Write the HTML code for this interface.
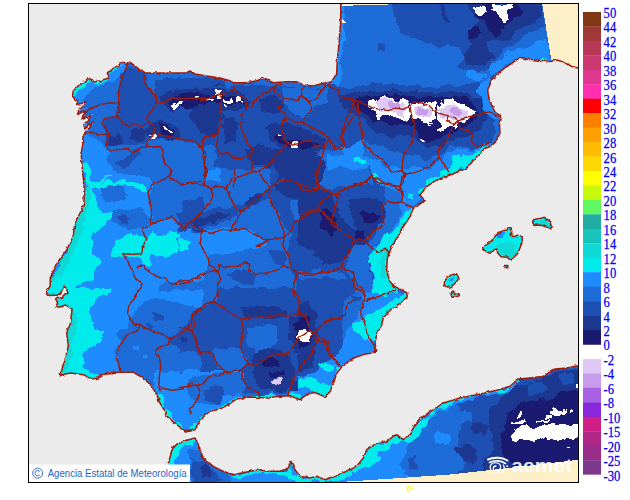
<!DOCTYPE html>
<html><head><meta charset="utf-8"><title>AEMET</title>
<style>
html,body{margin:0;padding:0;background:#fff;}
body{width:630px;height:500px;overflow:hidden;position:relative;font-family:"Liberation Sans",sans-serif;}
svg{position:absolute;left:0;top:0;}
.lg{font-family:"Liberation Serif",serif;font-size:14.2px;fill:#0000ee;stroke:#0000ee;stroke-width:0.25px;}
</style></head><body>
<svg width="630" height="500" viewBox="0 0 630 500">
<defs><filter id="rag" x="0" y="0" width="100%" height="100%" filterUnits="userSpaceOnUse" color-interpolation-filters="sRGB"><feTurbulence type="fractalNoise" baseFrequency="0.09" numOctaves="3" seed="7" result="n"/><feDisplacementMap in="SourceGraphic" in2="n" scale="9" xChannelSelector="R" yChannelSelector="G"/></filter><filter id="wig" x="0" y="0" width="100%" height="100%" filterUnits="userSpaceOnUse" color-interpolation-filters="sRGB"><feTurbulence type="fractalNoise" baseFrequency="0.22" numOctaves="2" seed="3" result="n"/><feDisplacementMap in="SourceGraphic" in2="n" scale="3.2" xChannelSelector="R" yChannelSelector="G"/></filter><clipPath id="fr"><rect x="28.5" y="3.5" width="550" height="479"/></clipPath>
<clipPath id="land"><polygon points="122.7,61.3 126.3,64.0 129.9,62.2 137.1,67.6 145.0,72.7 153.0,73.0 163.0,73.0 176.7,73.0 186.7,72.7 190.0,71.0 195.0,74.0 206.7,76.0 220.0,78.0 230.0,80.7 233.3,82.7 246.7,82.7 256.7,80.7 263.3,78.3 273.3,82.7 286.7,81.7 296.7,81.7 303.3,85.0 313.3,86.0 323.3,83.3 331.7,81.7 336.7,73.3 337.3,60.0 339.3,40.0 340.7,20.0 340.7,3.0 579.0,3.0 579.0,68.3 570.0,66.0 563.3,61.7 556.7,60.0 548.3,61.7 536.7,60.0 526.7,59.3 520.0,57.3 511.7,63.3 500.0,71.7 491.7,80.0 487.7,90.0 489.3,100.0 494.0,110.0 500.7,116.7 499.3,121.7 500.0,133.3 496.0,141.7 490.0,146.7 485.0,148.3 476.7,156.7 466.7,168.3 450.0,175.0 436.7,180.0 426.7,186.7 420.0,195.0 425.0,200.7 418.3,205.0 413.3,208.3 410.0,216.7 403.3,226.7 396.7,238.3 391.7,246.7 387.3,258.3 386.7,270.0 390.0,281.7 395.0,286.7 406.7,292.7 407.3,296.7 400.0,303.3 390.0,310.0 383.3,316.7 381.7,325.0 376.7,333.3 375.0,343.3 376.7,350.7 371.7,352.7 361.7,355.0 353.3,358.3 343.3,365.0 336.7,373.3 333.3,383.3 330.0,391.7 325.0,396.7 316.7,393.3 313.3,392.3 306.7,394.7 300.0,399.7 290.0,395.7 280.0,396.3 266.7,398.0 250.0,397.0 236.7,399.0 228.3,404.7 220.0,409.0 210.0,411.3 200.0,419.7 195.0,429.7 186.7,432.0 176.7,424.7 168.3,418.0 165.0,411.3 160.0,403.0 156.7,394.7 151.7,386.3 143.3,378.0 133.3,372.3 120.0,372.3 106.7,373.0 98.3,378.0 91.7,379.0 83.3,374.7 70.0,373.0 60.0,375.7 65.0,359.7 68.3,346.0 66.7,333.0 70.7,323.0 71.0,317.0 72.3,309.6 68.8,307.0 65.9,304.8 60.6,307.0 55.6,307.0 57.6,302.7 55.6,298.9 57.5,297.2 62.6,298.2 63.2,295.5 68.2,293.0 64.5,285.6 60.6,293.0 57.3,295.2 54.9,295.2 49.6,295.5 46.7,294.0 46.7,291.2 50.1,286.3 50.3,277.7 58.0,261.7 66.7,250.0 73.0,236.7 75.0,223.0 80.0,213.0 84.0,203.0 84.0,186.7 82.7,173.0 81.0,153.0 82.7,145.1 83.0,135.2 85.7,131.6 89.3,128.0 93.8,121.7 90.2,124.4 84.8,128.0 83.9,124.4 87.5,120.8 91.1,115.4 86.6,117.2 82.1,119.0 83.0,115.4 87.5,110.0 81.2,112.7 77.6,114.5 78.5,110.9 82.1,107.3 85.7,102.7 81.2,103.6 76.7,104.5 77.6,100.9 74.9,99.1 72.6,96.4 73.1,91.0 75.8,88.3 78.5,85.6 82.1,82.9 85.7,82.0 88.4,78.4 93.8,82.0 99.2,81.1 104.6,79.3 108.2,78.4 107.3,73.0 110.0,70.3 114.5,67.6 119.1,64.9"/><polygon points="168.3,482.0 168.3,463.0 173.3,446.3 183.3,441.3 195.0,438.0 198.3,444.7 200.0,449.7 203.3,458.0 213.3,466.3 223.3,471.3 233.3,474.7 250.0,471.3 260.0,469.7 266.7,471.3 280.0,471.3 288.3,468.0 291.0,461.3 295.0,469.7 300.0,476.3 310.0,478.0 316.7,476.3 325.0,479.7 333.3,477.0 346.7,471.3 356.7,466.3 363.3,458.0 366.7,449.7 376.7,443.0 386.7,441.3 393.3,436.3 396.7,434.7 403.3,439.7 410.0,434.7 415.0,424.7 423.3,416.3 433.3,409.7 443.3,403.0 460.0,398.0 476.7,394.7 496.7,390.3 510.0,386.3 518.3,379.0 530.0,378.0 543.3,376.3 555.0,369.0 566.7,368.0 579.0,365.7 579.0,482.0"/><polygon points="482.7,247.8 486.7,244.4 491.1,241.1 495.6,235.6 501.1,231.1 506.7,230.0 508.9,227.8 511.1,227.8 511.8,232.2 510.0,234.4 513.3,236.7 517.8,235.1 522.2,236.7 522.2,242.2 520.0,247.8 517.8,253.3 514.4,256.7 511.1,260.0 506.7,257.3 501.1,256.7 497.8,253.3 496.7,248.9 493.3,250.0 490.0,253.3 485.6,251.6 483.3,250.0"/><polygon points="444.4,282.2 446.7,277.8 451.1,275.1 455.6,273.8 458.4,275.6 457.8,280.0 454.4,284.0 451.1,286.7 446.7,287.1 444.4,285.6"/><polygon points="532.7,220.0 536.7,218.9 541.1,218.2 544.4,217.3 547.8,219.6 551.1,222.2 552.2,226.7 550.0,228.9 546.7,227.1 542.2,225.6 537.8,224.9 534.0,225.6 532.7,222.2"/><polygon points="451.6,292.2 453.3,291.1 454.9,294.4 458.9,293.8 459.6,296.0 455.6,296.7 452.2,297.3 451.1,295.1"/><polygon points="505.1,265.6 507.8,265.6 507.8,267.8 505.1,267.8"/></clipPath></defs>
<rect x="28" y="3" width="551" height="480" fill="#ebebeb"/>
<g clip-path="url(#fr)">
<g clip-path="url(#land)" shape-rendering="crispEdges">
<g filter="url(#rag)">
<rect x="0" y="0" width="630" height="500" fill="#1e6cd8"/>
<polygon fill="#1e8cff" points="70.2,90.6 77.8,83.0 85.4,80.5 93.0,79.2 105.7,74.1 110.8,67.8 121.0,60.2 126.5,65.2 122.2,72.9 114.6,79.2 108.3,83.0 98.1,85.6 90.5,90.6 84.1,98.3 81.6,105.9 85.4,113.5 86.7,123.7 90.5,133.8 100.6,141.4 105.7,151.6 118.4,154.1 131.1,156.7 136.2,164.3 143.8,169.4 143.8,177.0 75.2,177.0 75.2,126.2 70.2,98.3"/>
<polygon fill="#00ecec" points="70.2,88.1 76.5,83.8 85.4,80.5 93.0,79.0 91.7,82.5 84.1,84.3 77.8,88.1 74.0,95.2 70.2,98.3"/>
<polygon fill="#00ecec" points="107.0,71.6 114.6,66.5 116.4,70.3 109.5,75.9"/>
<polygon fill="#00ecec" points="80.3,161.7 86.7,161.7 87.4,177.0 80.3,177.0"/>
<polygon fill="#1e50b4" points="119.7,75.4 127.3,64.0 136.2,70.3 145.1,74.1 147.6,85.6 155.2,94.4 154.5,104.6 150.2,113.5 147.6,123.7 151.4,133.8 146.3,144.0 133.7,151.6 121.0,150.3 109.5,150.3 105.7,144.0 107.0,133.8 103.2,124.9 107.0,118.6 117.1,116.5 118.9,105.9 117.1,93.2"/>
<polygon fill="#1c3890" points="131.1,128.7 141.3,126.2 147.6,131.3 145.1,140.2 136.2,141.4 131.1,136.3"/>
<polygon fill="#1c3890" points="108.3,136.3 119.7,135.1 123.5,141.4 118.4,147.8 109.5,147.8"/>
<polygon fill="#1e50b4" points="155.2,80.5 166.7,77.4 181.9,78.4 194.6,77.4 207.3,78.4 222.5,80.0 222.5,133.8 207.3,136.3 202.2,146.5 187.0,141.4 171.7,137.6 161.6,136.3 151.4,133.8 147.6,123.7 150.2,113.5 154.5,104.6 155.2,94.4"/>
<polygon fill="#1c3890" points="160.3,97.0 169.2,90.6 181.9,89.4 197.1,88.1 212.4,85.6 222.5,84.3 222.5,116.0 212.4,113.5 202.2,111.0 192.1,109.7 181.9,108.4 171.7,111.0 164.1,104.6"/>
<polygon fill="#1a1a70" points="166.7,100.8 174.3,94.4 192.1,93.2 207.3,91.9 222.5,89.4 222.5,109.7 207.3,108.4 192.1,108.4 179.4,107.1 171.7,107.1"/>
<polygon fill="#ffffff" points="171.2,102.1 174.8,100.8 177.3,103.8 181.9,103.3 183.2,105.4 178.1,106.4 175.6,108.4 171.7,107.1"/>
<polygon fill="#ffffff" points="195.4,97.0 198.4,97.0 198.4,98.3 195.4,98.3"/>
<polygon fill="#ffffff" points="204.3,98.3 206.8,98.3 206.8,99.3 204.3,99.3"/>
<polygon fill="#ffffff" points="211.9,95.7 217.0,95.7 217.0,97.2 211.9,97.2"/>
<polygon fill="#ffffff" points="217.5,92.7 220.0,92.7 220.0,98.3 217.5,98.3"/>
<polygon fill="#1c3890" points="146.3,126.2 154.0,122.4 161.6,121.1 171.7,123.7 179.4,128.7 181.9,136.3 171.7,137.6 161.6,137.6 154.0,142.7 147.6,138.9"/>
<polygon fill="#1a1a70" points="157.8,123.7 166.7,123.7 174.3,128.7 171.7,135.1 161.6,135.1"/>
<polygon fill="#ffffff" points="151.4,137.6 155.2,134.3 157.8,135.8 158.5,138.9 154.5,141.4 151.9,140.9"/>
<polygon fill="#ffffff" points="162.9,125.7 165.4,126.2 171.2,130.8 169.7,131.8 164.1,128.2"/>
<polygon fill="#1e50b4" points="204.8,133.8 222.5,131.3 222.5,177.0 207.3,177.0 203.5,156.7"/>
<polygon fill="#1e8cff" points="40.0,164.9 149.2,164.9 153.0,182.7 147.9,192.9 151.7,208.1 151.7,224.6 172.1,217.0 182.2,228.4 192.4,241.1 202.5,246.2 202.5,281.7 182.2,281.7 167.0,281.7 159.4,289.4 159.4,297.0 40.0,297.0"/>
<polygon fill="#1e6cd8" points="99.7,186.5 111.1,185.7 123.8,186.5 127.6,194.1 123.8,200.5 113.7,201.7 103.5,200.5 99.7,194.1"/>
<polygon fill="#1e6cd8" points="113.7,210.6 123.8,208.1 136.5,208.1 146.7,211.9 150.5,220.8 141.6,227.1 128.9,231.0 118.7,227.1 111.1,220.8"/>
<polygon fill="#1e50b4" points="118.2,217.0 123.8,214.4 128.9,219.5 126.3,224.6 120.8,223.8"/>
<polygon fill="#1e50b4" points="182.2,200.5 202.5,197.9 202.5,233.5 192.4,231.0 184.8,220.8"/>
<polygon fill="#1c3890" points="187.3,218.3 202.5,213.2 202.5,232.2 192.4,229.7"/>
<polygon fill="#00ecec" points="81.9,164.9 87.0,185.2 84.4,200.5 78.1,215.7 74.3,231.0 67.9,248.7 59.0,264.0 51.4,276.7 47.6,291.9 55.2,297.0 74.3,297.0 71.7,289.4 75.6,284.3 85.7,281.7 94.6,279.2 94.6,271.6 99.7,264.0 97.1,256.3 90.8,251.3 90.8,238.6 94.6,232.2 104.8,224.6 112.4,217.0 113.7,211.9 101.0,211.9 98.4,203.0 95.9,195.4 93.3,189.0 99.7,182.7 108.6,177.6 109.8,173.8 103.5,177.6 97.1,182.7 90.8,182.7 89.5,164.9"/>
<polygon fill="#10d8d4" points="83.2,180.2 89.5,185.2 89.5,203.0 84.4,220.8 80.6,236.0 73.0,253.8 65.4,269.0 57.8,276.7 51.4,284.3 47.6,291.9 51.4,276.7 59.0,264.0 67.9,248.7 74.3,231.0 78.1,215.7 84.4,200.5 87.0,185.2"/>
<polygon fill="#00ecec" points="94.6,184.0 108.6,180.2 123.8,181.4 136.5,182.7 144.1,184.0 145.4,191.6 140.3,190.3 136.5,186.5 123.8,185.2 111.1,185.2 103.5,187.8 97.1,189.0"/>
<polygon fill="#00ecec" points="109.8,251.3 113.7,242.4 121.3,237.3 128.9,233.5 137.8,233.5 144.1,238.6 151.7,232.2 159.4,236.0 167.0,234.8 172.1,228.4 177.1,232.2 178.4,239.8 189.8,241.1 189.8,248.7 182.2,251.3 174.6,252.5 167.0,257.6 159.4,257.6 151.7,253.8 149.2,260.2 151.7,265.2 141.6,264.0 137.8,256.3 123.8,255.1 116.2,257.6 111.1,256.3"/>
<polygon fill="#1e8cff" points="34.9,290.0 159.4,290.0 154.3,297.6 141.6,302.7 137.8,309.0 130.2,317.9 126.3,325.6 118.7,328.1 116.2,333.2 121.3,340.8 116.2,351.0 118.7,361.1 120.8,376.3 34.9,386.5"/>
<polygon fill="#1e8cff" points="139.0,290.0 202.5,290.0 202.5,305.2 189.8,307.8 177.1,302.7 164.4,300.2 154.3,297.6"/>
<polygon fill="#00ecec" points="34.9,287.5 111.1,287.5 108.6,295.1 95.9,297.6 93.3,305.2 89.5,312.9 92.1,320.5 98.4,328.1 103.5,333.2 102.2,340.8 94.6,344.6 85.7,348.4 83.2,356.0 87.0,363.7 81.9,367.5 90.8,371.3 99.7,376.3 106.0,375.1 102.2,382.7 90.8,382.7 34.9,382.7"/>
<polygon fill="#10d8d4" points="64.1,304.0 73.0,305.2 78.1,315.4 75.6,328.1 71.7,340.8 70.5,356.0 67.9,366.2 61.6,373.8 55.2,377.6 64.1,366.2 65.4,353.5 64.1,335.7 69.2,323.0 69.2,310.3"/>
<polygon fill="#1e50b4" points="151.7,314.1 161.9,311.6 165.7,316.7 161.9,321.7 154.3,320.5"/>
<polygon fill="#1e50b4" points="146.7,323.0 154.3,324.3 153.0,329.4 147.9,328.1"/>
<polygon fill="#1e50b4" points="169.5,338.3 177.1,333.2 186.0,325.6 192.4,312.9 202.5,307.8 202.5,373.8 192.4,373.8 182.2,371.3 179.7,361.1 178.4,348.4"/>
<polygon fill="#1c3890" points="181.0,335.7 186.0,335.7 186.0,340.8 181.0,340.8"/>
<polygon fill="#1e8cff" points="134.0,344.6 140.3,344.6 140.3,351.0 134.0,351.0"/>
<polygon fill="#1e8cff" points="141.6,354.8 147.9,354.8 147.9,358.6 141.6,358.6"/>
<polygon fill="#1e8cff" points="167.0,389.0 182.2,391.6 192.4,396.7 189.8,406.8 177.1,409.4 169.5,417.0 161.9,401.7"/>
<polygon fill="#00ecec" points="155.6,391.6 160.6,392.9 165.7,404.3 168.3,417.0 161.9,417.0 159.4,404.3"/>
<polygon fill="#1e50b4" points="197.5,85.4 238.1,86.7 263.5,84.1 283.8,86.7 301.6,87.9 321.9,86.7 332.1,84.1 342.2,87.9 352.4,93.0 362.5,95.6 362.5,118.4 352.4,126.0 347.3,136.2 342.2,146.3 332.1,151.4 327.0,161.6 319.4,171.7 316.8,187.0 197.5,187.0"/>
<polygon fill="#1c3890" points="197.5,90.5 215.2,87.9 233.0,89.2 245.7,94.3 250.8,100.6 247.0,108.3 235.6,110.8 225.4,110.8 215.2,109.5 197.5,108.3"/>
<polygon fill="#1a1a70" points="197.5,95.6 215.2,93.0 230.5,95.6 243.2,98.1 244.4,104.4 230.5,105.7 215.2,104.4 197.5,103.2"/>
<polygon fill="#ffffff" points="215.7,90.0 222.3,90.0 222.3,93.5 215.7,93.5"/>
<polygon fill="#ffffff" points="217.8,93.5 222.9,93.5 222.9,98.1 217.8,98.1"/>
<polygon fill="#ffffff" points="224.1,99.4 231.7,99.4 231.7,103.2 224.1,103.2"/>
<polygon fill="#ffffff" points="236.8,96.8 241.9,96.8 241.9,103.2 236.8,103.2"/>
<polygon fill="#ffffff" points="205.1,98.1 214.0,98.1 214.0,100.6 205.1,100.6"/>
<polygon fill="#ffffff" points="225.4,105.7 227.4,105.7 227.4,108.3 225.4,108.3"/>
<polygon fill="#1c3890" points="267.3,128.6 276.2,123.5 286.3,122.2 301.6,126.0 314.3,133.7 324.4,138.7 327.0,146.3 319.4,150.2 309.2,152.7 296.5,154.0 286.3,148.9 276.2,143.8 268.6,138.7"/>
<polygon fill="#1a1a70" points="273.7,134.9 281.3,133.7 287.6,140.0 299.0,141.3 309.2,140.0 319.4,143.8 311.7,148.9 299.0,150.2 288.9,147.6 278.7,142.5"/>
<polygon fill="#ffffff" points="278.2,134.9 281.8,134.9 281.8,137.0 278.2,137.0"/>
<polygon fill="#ffffff" points="290.2,143.3 295.2,141.8 300.3,146.3 297.8,148.9 291.4,147.6"/>
<polygon fill="#1c3890" points="247.0,148.9 258.4,145.1 271.1,148.9 276.2,159.0 268.6,166.7 255.9,165.4 248.3,159.0"/>
<polygon fill="#1c3890" points="259.7,98.1 273.7,95.6 283.8,100.6 285.1,109.5 276.2,114.6 263.5,110.8"/>
<polygon fill="#1c3890" points="202.5,112.1 215.2,110.8 220.3,123.5 217.8,136.2 207.6,138.7 201.3,128.6"/>
<polygon fill="#1c3890" points="222.9,118.4 233.0,114.6 238.1,126.0 235.6,141.3 225.4,143.8"/>
<polygon fill="#1e6cd8" points="197.5,146.3 210.2,143.8 217.8,154.0 215.2,166.7 220.3,179.4 215.2,187.0 197.5,187.0"/>
<polygon fill="#1e6cd8" points="283.8,87.9 301.6,88.4 321.9,87.4 332.1,84.9 341.0,88.4 337.1,98.1 327.0,103.2 314.3,107.0 309.2,114.6 301.6,118.4 294.0,113.3 286.3,105.7 285.1,95.6"/>
<polygon fill="#1e6cd8" points="309.2,156.5 321.9,151.4 332.1,152.7 342.2,147.6 348.6,136.2 354.9,126.0 362.5,121.0 362.5,187.0 316.8,187.0 319.4,171.7"/>
<polygon fill="#1e8cff" points="342.2,146.3 352.4,136.2 362.5,133.7 362.5,166.7 352.4,161.6 344.8,156.5"/>
<polygon fill="#00ecec" points="354.4,158.5 358.7,158.5 358.7,162.9 354.4,162.9"/>
<polygon fill="#1c3890" points="334.6,98.1 347.3,94.3 362.5,93.0 362.5,110.8 352.4,113.3 342.2,110.8 335.9,105.7"/>
<polygon fill="#1a1a70" points="346.0,98.1 362.5,96.8 362.5,107.0 349.8,108.3"/>
<polygon fill="#ffffff" points="353.7,103.2 356.2,103.2 356.2,107.0 353.7,107.0"/>
<polygon fill="#1e8cff" points="333.3,60.0 342.2,60.0 342.2,75.2 338.4,85.4 332.1,84.1 335.9,75.2"/>
<polygon fill="#1e8cff" points="338.9,2.5 344.2,2.5 343.7,38.1 341.7,63.5 337.6,81.3 330.0,86.3 330.0,76.2 337.6,63.5"/>
<polygon fill="#1e50b4" points="391.0,2.5 492.5,2.5 492.5,81.3 482.4,76.2 472.2,73.7 457.0,73.7 451.9,66.0 439.2,50.8 431.6,43.2 413.8,38.1 401.1,33.0 397.3,22.9 393.5,12.7"/>
<polygon fill="#1c3890" points="439.2,5.1 462.1,5.1 463.3,15.2 457.0,21.6 446.8,20.3 441.7,14.0"/>
<polygon fill="#1c3890" points="467.1,15.2 479.8,12.7 488.7,22.9 490.0,38.1 479.8,41.9 471.0,35.6"/>
<polygon fill="#1c3890" points="462.1,54.6 472.2,49.5 482.4,52.1 483.7,66.0 472.2,72.4 459.5,69.8"/>
<polygon fill="#1a1a70" points="469.7,25.4 479.8,27.9 479.8,38.1 471.0,35.6"/>
<polygon fill="#ffffff" points="473.5,6.3 479.8,4.6 484.4,7.6 483.7,14.0 479.8,16.5 474.8,14.0"/>
<polygon fill="#1e50b4" points="378.8,44.4 385.4,44.4 385.4,52.1 378.8,52.1"/>
<polygon fill="#1e50b4" points="327.5,82.7 345.2,87.8 365.6,85.2 393.5,84.0 418.9,86.5 444.3,86.5 467.1,85.2 492.5,82.7 492.5,146.2 472.2,148.7 451.9,146.2 441.7,153.8 426.5,158.9 406.2,153.8 385.9,148.7 368.1,141.1 355.4,143.7 345.2,146.2 327.5,148.7"/>
<polygon fill="#1e8cff" points="327.5,156.3 350.3,153.8 368.1,156.3 380.8,161.4 393.5,171.6 406.2,174.1 421.4,171.6 436.7,164.0 446.8,153.8 457.0,148.7 472.2,151.3 482.4,146.2 492.5,141.1 492.5,197.0 327.5,197.0"/>
<polygon fill="#1e8cff" points="479.8,82.7 492.5,80.2 492.5,103.0 484.9,100.5"/>
<polygon fill="#1e6cd8" points="327.5,176.7 345.2,174.1 360.5,179.2 368.1,189.4 365.6,197.0 327.5,197.0"/>
<polygon fill="#1e6cd8" points="380.8,183.0 396.0,181.7 406.2,186.8 406.2,197.0 380.8,197.0"/>
<polygon fill="#1c3890" points="337.6,95.4 355.4,92.9 370.6,91.6 393.5,90.3 418.9,91.6 444.3,91.6 467.1,91.6 482.4,100.5 487.5,110.6 482.4,128.4 472.2,133.5 462.1,138.6 451.9,141.1 441.7,146.2 426.5,146.2 413.8,138.6 406.2,133.5 388.4,136.0 375.7,133.5 365.6,120.8 355.4,115.7 342.7,108.1"/>
<polygon fill="#1a1a70" points="355.4,99.2 370.6,96.7 393.5,95.4 418.9,96.7 444.3,96.7 467.1,96.7 477.3,105.6 474.8,120.8 464.6,128.4 451.9,133.5 441.7,138.6 426.5,141.1 416.3,133.5 406.2,125.9 388.4,124.6 375.7,120.8 363.0,113.2 355.4,105.6"/>
<polygon fill="#ffffff" points="366.5,100.0 372.3,98.8 378.0,101.1 384.9,97.7 393.0,97.7 398.7,101.1 404.5,98.8 409.1,102.3 410.2,108.0 411.4,117.2 406.8,121.8 402.2,119.5 397.6,117.2 391.8,114.9 387.2,117.2 382.6,114.9 379.2,120.7 376.9,112.6 371.1,111.5 367.7,106.9"/>
<polygon fill="#ffffff" points="411.4,103.4 417.1,102.3 424.0,104.6 430.9,103.4 435.6,101.1 437.9,105.7 435.6,110.3 434.4,119.5 430.9,121.8 429.8,127.6 427.5,123.0 421.7,120.7 414.8,119.5 411.4,112.6"/>
<polygon fill="#ffffff" points="437.9,106.9 444.8,98.8 451.7,97.7 458.6,102.3 465.5,103.4 468.9,108.0 474.7,111.5 470.1,116.1 466.6,119.5 463.2,124.1 458.6,123.0 456.3,128.7 450.5,125.3 445.9,127.6 442.5,131.0 437.9,129.9 440.2,124.1 436.7,117.2"/>
<polygon fill="#e0c8f4" points="374.6,101.1 384.9,99.3 393.0,99.3 397.6,103.4 404.5,104.6 407.9,110.3 404.5,116.1 396.4,112.6 389.5,111.5 381.5,109.2 375.7,106.9"/>
<polygon fill="#e0c8f4" points="413.7,105.7 424.0,106.9 430.9,108.0 432.1,116.1 424.0,117.2 416.0,114.9"/>
<polygon fill="#e0c8f4" points="441.3,108.0 447.1,103.4 454.0,104.6 460.9,106.9 467.8,111.5 463.2,117.2 456.3,119.5 449.4,117.2 443.6,119.5 440.2,114.9"/>
<polygon fill="#c89cec" points="389.5,100.0 397.6,100.0 397.6,106.9 389.5,106.9"/>
<polygon fill="#c89cec" points="417.1,108.0 426.3,108.0 426.3,114.9 417.1,114.9"/>
<polygon fill="#c89cec" points="450.5,106.9 459.7,106.9 459.7,113.8 450.5,113.8"/>
<polygon fill="#ffffff" points="421.4,138.1 424.5,138.1 424.5,139.6 421.4,139.6"/>
<polygon fill="#00ecec" points="354.1,157.6 365.6,158.9 366.8,163.5 355.4,162.7"/>
<polygon fill="#00ecec" points="368.1,171.6 374.4,172.9 380.8,179.2 379.5,184.3 371.9,181.7 368.1,176.7"/>
<polygon fill="#00ecec" points="451.9,155.1 459.5,153.8 464.6,161.4 467.1,170.3 457.0,171.6 451.9,166.5"/>
<polygon fill="#00ecec" points="424.0,181.7 431.6,176.7 441.7,175.4 451.9,170.3 462.1,169.0 446.8,179.2 434.1,186.8 426.5,191.9 418.9,197.0 411.3,197.0 418.9,189.4"/>
<polygon fill="#1e8cff" points="498.4,61.0 506.0,54.6 516.2,50.8 526.3,47.0 536.5,43.2 547.9,40.6 551.7,61.0 541.6,63.5 528.9,59.7 518.7,57.9 508.6,63.5 499.7,71.1 490.8,76.2 487.0,88.9 489.5,101.6 503.5,109.2 503.5,121.9 485.7,111.7 480.6,101.6 478.1,88.9 480.6,76.2 488.3,68.6"/>
<polygon fill="#1e50b4" points="445.1,2.0 541.6,2.0 544.6,22.9 536.5,29.2 526.3,34.3 518.7,41.9 513.7,47.0 503.5,49.5 497.1,59.7 488.3,67.3 478.1,72.4 465.4,72.4 455.2,67.3 462.9,58.4 460.3,50.8 452.7,43.2 447.6,33.0 450.2,20.3 445.1,12.7"/>
<polygon fill="#1c3890" points="465.4,2.0 541.6,2.0 542.9,15.2 534.0,22.9 523.8,24.1 516.2,30.5 508.6,38.1 501.0,40.6 490.8,38.1 485.7,43.2 490.8,50.8 495.9,58.4 485.7,63.5 473.0,66.0 465.4,63.5 462.9,55.9 467.9,50.8 473.0,43.2 467.9,35.6 473.0,25.4 480.6,20.3 470.5,12.7"/>
<polygon fill="#1a1a70" points="473.0,7.6 490.8,3.8 516.2,3.8 523.8,12.7 513.7,20.3 506.0,24.1 501.0,33.0 493.3,35.6 488.3,27.9 483.2,20.3 475.6,15.2"/>
<polygon fill="#1a1a70" points="467.9,27.9 478.1,26.7 480.6,35.6 471.7,38.1"/>
<polygon fill="#ffffff" points="473.0,7.6 478.1,5.1 484.4,6.3 485.7,12.7 481.9,16.5 475.6,14.0"/>
<polygon fill="#ffffff" points="492.1,2.5 512.4,2.5 511.1,7.6 507.3,11.4 508.6,19.0 504.8,21.6 499.7,17.8 497.1,11.4 493.3,8.9"/>
<polygon fill="#1e6cd8" points="437.5,48.3 452.7,44.4 460.3,50.8 462.9,58.4 455.2,67.3 465.4,72.4 478.1,72.4 488.3,67.3 490.8,76.2 480.6,83.8 465.4,83.8 452.7,81.3 437.5,83.8"/>
<polygon fill="#1e8cff" points="465.4,73.7 480.6,72.4 487.0,76.2 478.1,82.5 467.9,81.3"/>
<polygon fill="#00ecec" points="540.3,59.9 546.7,59.9 546.7,63.0 540.3,63.0"/>
<polygon fill="#1e6cd8" points="204.1,167.5 268.9,167.5 271.4,187.8 263.8,190.3 246.0,203.0 230.8,205.6 213.0,208.1 205.4,195.4"/>
<polygon fill="#1e8cff" points="177.5,228.4 200.3,233.5 207.9,253.8 205.4,271.6 195.2,279.2 177.5,284.3"/>
<polygon fill="#1e8cff" points="200.3,233.5 213.0,229.7 230.8,228.4 246.0,229.7 263.8,237.3 267.6,246.2 256.2,248.7 241.0,250.0 225.7,253.8 210.5,255.1 202.9,246.2"/>
<polygon fill="#1e8cff" points="205.4,170.0 220.6,170.0 220.6,181.4 205.4,181.4"/>
<polygon fill="#1e50b4" points="177.5,215.7 195.2,211.9 213.0,208.1 230.8,205.6 246.0,203.0 263.8,190.3 271.4,187.8 268.9,197.9 256.2,205.6 243.5,211.9 230.8,219.5 213.0,224.6 197.8,228.4 177.5,233.5"/>
<polygon fill="#1c3890" points="190.2,222.1 205.4,217.0 220.6,213.2 230.8,211.9 225.7,217.0 210.5,222.1 195.2,227.1"/>
<polygon fill="#1c3890" points="244.8,203.0 258.7,194.1 265.1,194.1 256.2,203.0 247.3,208.1"/>
<polygon fill="#1e50b4" points="268.9,167.5 342.5,167.5 342.5,299.5 299.4,299.5 294.3,276.7 291.7,266.5 286.7,253.8 291.7,233.5 281.6,220.8 271.4,200.5"/>
<polygon fill="#1e6cd8" points="291.7,200.5 307.0,199.2 312.1,208.1 301.9,220.8 291.7,220.8"/>
<polygon fill="#1c3890" points="274.0,184.0 291.7,181.4 312.1,185.2 309.5,195.4 294.3,197.9 279.0,195.4"/>
<polygon fill="#1c3890" points="317.1,205.6 332.4,203.0 342.5,208.1 342.5,233.5 327.3,231.0 319.7,220.8"/>
<polygon fill="#1a1a70" points="322.2,210.6 334.9,208.1 338.7,220.8 329.8,225.9"/>
<polygon fill="#1c3890" points="322.2,243.7 337.5,241.1 342.5,266.5 327.3,264.0"/>
<polygon fill="#1c3890" points="299.4,284.3 312.1,281.7 314.6,297.0 299.4,297.0"/>
<polygon fill="#1e50b4" points="268.9,251.3 284.1,250.0 287.9,261.4 276.5,265.2 268.9,258.9"/>
<polygon fill="#1e50b4" points="225.7,272.9 243.5,270.3 256.2,274.1 253.7,283.0 235.9,284.3"/>
<polygon fill="#00ecec" points="178.7,241.1 188.9,241.1 188.9,251.3 178.7,251.3"/>
<polygon fill="#1e50b4" points="200.3,305.2 215.6,302.7 220.6,287.5 342.5,287.5 342.5,419.5 205.4,419.5 205.4,373.8 200.3,353.5"/>
<polygon fill="#1e6cd8" points="177.5,353.5 190.2,351.0 200.3,356.0 202.9,373.8 210.5,376.3 213.0,386.5 205.4,391.6 195.2,401.7 190.2,417.0 177.5,417.0"/>
<polygon fill="#1e6cd8" points="213.0,348.4 230.8,347.1 243.5,351.0 244.8,363.7 238.4,373.8 225.7,373.8 215.6,366.2"/>
<polygon fill="#1e6cd8" points="248.6,328.1 263.8,324.3 276.5,328.1 277.8,340.8 268.9,351.0 256.2,352.2 247.3,343.3"/>
<polygon fill="#1e6cd8" points="205.4,391.6 215.6,386.5 230.8,387.8 246.0,391.6 261.3,394.1 281.6,392.9 291.7,390.3 299.4,378.9 312.1,373.8 322.2,363.7 342.5,358.6 342.5,419.5 195.2,419.5"/>
<polygon fill="#1c3890" points="241.0,307.8 256.2,305.2 276.5,306.5 286.7,310.3 284.1,316.7 268.9,317.9 251.1,317.9 242.2,314.1"/>
<polygon fill="#1c3890" points="289.2,317.9 301.9,315.4 314.6,317.9 318.4,330.6 317.1,345.9 307.0,356.0 294.3,353.5 289.2,340.8"/>
<polygon fill="#1c3890" points="253.7,353.5 266.3,349.7 281.6,351.0 291.7,358.6 294.3,373.8 291.7,386.5 281.6,391.6 268.9,390.3 258.7,386.5 252.4,373.8"/>
<polygon fill="#1a1a70" points="294.3,323.0 307.0,320.5 315.9,328.1 314.6,343.3 304.4,347.1 295.6,340.8"/>
<polygon fill="#1a1a70" points="261.3,359.8 271.4,356.5 280.3,359.8 279.0,366.2 268.9,367.5 262.5,364.9"/>
<polygon fill="#1a1a70" points="270.2,371.8 281.6,370.8 283.6,375.8 274.0,377.1"/>
<polygon fill="#1e8cff" points="200.3,409.4 218.1,401.7 230.8,395.4 246.0,395.4 263.8,396.7 281.6,395.4 294.3,392.1 301.9,381.4 314.6,376.3 324.8,366.2 342.5,363.7 342.5,419.5 195.2,419.5"/>
<polygon fill="#00ecec" points="225.7,401.7 233.3,396.7 246.0,397.9 263.8,399.2 281.6,397.9 296.8,396.7 301.9,386.5 312.1,387.8 322.2,389.0 332.4,386.5 342.5,376.3 342.5,419.5 205.4,419.5 218.1,409.4"/>
<polygon fill="#00ecec" points="319.7,363.7 329.8,361.1 342.5,366.2 342.5,373.8 332.4,372.5 322.2,370.0"/>
<polygon fill="#1c3890" points="287.9,380.2 299.4,381.4 303.2,390.3 291.7,392.1"/>
<polygon fill="#ffffff" points="295.6,337.0 300.6,331.9 305.7,329.4 307.0,333.2 313.3,332.7 309.5,337.0 305.7,342.1 299.4,340.8"/>
<polygon fill="#e0c8f4" points="271.9,381.4 276.5,378.9 279.6,377.6 283.6,379.4 280.3,382.7 276.5,386.0 272.7,385.2"/>
<polygon fill="#1e50b4" points="325.4,167.5 386.3,167.5 386.3,299.5 325.4,299.5"/>
<polygon fill="#1e6cd8" points="315.2,167.5 368.6,167.5 371.1,182.7 358.4,187.8 345.7,185.2 333.0,190.3 317.8,182.7"/>
<polygon fill="#1e6cd8" points="383.8,195.4 396.5,190.3 401.6,203.0 401.6,215.7 394.0,228.4 381.3,238.6 373.7,248.7 368.6,258.9 371.1,276.7 373.7,297.0 350.8,297.0 353.3,279.2 345.7,266.5 348.3,253.8 355.9,243.7 368.6,243.7 376.2,231.0 383.8,220.8"/>
<polygon fill="#1e6cd8" points="297.5,271.6 315.2,269.0 338.1,271.6 350.8,279.2 350.8,299.5 297.5,299.5"/>
<polygon fill="#1c3890" points="297.5,187.8 312.7,185.2 327.9,192.9 335.6,203.0 340.6,215.7 350.8,228.4 366.0,236.0 368.6,243.7 355.9,243.7 348.3,253.8 338.1,264.0 322.9,264.0 312.7,251.3 297.5,246.2"/>
<polygon fill="#1c3890" points="348.3,200.5 361.0,196.7 376.2,197.9 383.8,208.1 383.8,220.8 376.2,231.0 366.0,236.0 355.9,228.4 350.8,215.7"/>
<polygon fill="#1a1a70" points="317.8,211.9 327.9,209.4 335.6,218.3 338.1,231.0 330.5,234.8 322.9,228.4"/>
<polygon fill="#1a1a70" points="358.4,213.2 371.1,210.6 378.7,215.7 376.2,222.1 363.5,223.3"/>
<polygon fill="#1a1a70" points="354.6,229.7 364.8,229.7 366.0,237.3 357.1,238.1"/>
<polygon fill="#1e8cff" points="369.8,167.5 462.5,167.5 462.5,185.2 427.0,185.2 419.4,197.9 411.7,210.6 401.6,228.4 391.4,246.2 388.9,266.5 396.5,289.4 399.0,299.5 373.7,299.5 372.4,276.7 369.8,258.9 374.9,248.7 382.5,238.6 394.0,227.1 401.1,215.7 401.6,203.0 397.8,191.6 383.8,185.2 373.7,180.2"/>
<polygon fill="#00ecec" points="369.8,175.1 374.9,173.8 383.8,181.4 376.2,180.2"/>
<polygon fill="#00ecec" points="407.9,192.9 413.0,191.6 411.7,197.9 407.9,196.7"/>
<polygon fill="#00ecec" points="401.6,219.5 413.0,205.6 419.4,205.6 406.7,227.1 396.5,246.2 391.4,266.5 401.6,299.5 373.7,299.5 373.7,281.7 369.8,258.9 376.2,251.3 382.5,234.8 390.2,233.5 397.8,228.4"/>
<polygon fill="#10d8d4" points="381.3,253.8 387.6,251.3 386.3,271.6 391.4,286.8 386.3,289.4 381.3,276.7"/>
<polygon fill="#1e50b4" points="297.5,277.5 355.9,277.5 353.3,295.2 335.6,305.4 322.9,320.6 315.2,343.5 317.8,363.8 297.5,376.5"/>
<polygon fill="#1e8cff" points="363.5,290.2 383.8,295.2 401.6,291.4 411.7,292.7 411.7,300.3 394.0,307.9 383.8,315.6 381.3,325.7 376.2,338.4 378.7,353.7 361.0,356.2 350.8,358.7 338.1,368.9 330.5,381.6 325.4,399.4 297.5,399.4 297.5,376.5 315.2,371.4 322.9,363.8 333.0,356.2 338.1,346.0 345.7,338.4 350.8,325.7 358.4,313.0 363.5,302.9"/>
<polygon fill="#1e50b4" points="327.9,328.3 338.1,325.7 343.2,338.4 338.1,356.2 330.5,358.7 326.7,343.5"/>
<polygon fill="#1c3890" points="297.5,305.4 307.6,302.9 315.2,315.6 316.5,343.5 312.7,366.3 297.5,371.4"/>
<polygon fill="#1a1a70" points="297.5,315.6 307.6,315.6 311.4,330.8 310.2,346.0 297.5,351.1"/>
<polygon fill="#ffffff" points="297.5,330.8 305.1,329.5 312.7,332.1 307.6,335.9 310.2,341.0 302.5,341.0 297.5,339.7"/>
<polygon fill="#00ecec" points="373.7,277.5 396.5,277.5 399.0,290.2 386.3,288.9 376.2,291.4"/>
<polygon fill="#00ecec" points="383.8,307.9 396.5,300.3 406.7,291.4 411.7,295.2 399.0,305.4 386.3,316.8 380.0,324.4 376.2,341.0 371.1,339.7 363.5,335.9 353.3,330.8 350.8,323.2 361.0,321.9 368.6,315.6 376.2,310.5"/>
<polygon fill="#00ecec" points="319.0,363.8 327.9,362.5 335.6,366.3 333.0,371.4 325.4,370.2 320.3,367.6"/>
<polygon fill="#00ecec" points="297.5,379.0 310.2,376.5 320.3,381.6 329.2,386.7 327.9,399.4 315.2,391.7 307.6,389.2 297.5,386.7"/>
<polygon fill="#1e8cff" points="155.2,370.5 241.6,370.5 246.7,388.2 236.5,397.1 226.3,403.5 211.1,411.1 201.0,418.7 198.4,434.0 185.7,436.5 150.2,398.4"/>
<polygon fill="#1e6cd8" points="190.8,378.1 216.2,373.0 241.6,373.0 246.7,388.2 234.0,395.9 223.8,398.4 211.1,406.0 201.0,406.0 190.8,398.4 185.7,388.2"/>
<polygon fill="#1e50b4" points="203.5,388.2 221.3,385.7 226.3,395.9 216.2,404.7 203.5,402.2"/>
<polygon fill="#00ecec" points="150.2,394.6 160.3,395.9 166.7,408.6 174.3,420.0 188.3,430.1 193.8,423.8 202.2,416.2 211.1,411.1 226.3,403.5 235.2,398.4 246.7,395.9 261.9,394.6 277.1,395.9 302.5,394.6 302.5,403.5 234.0,403.5 216.2,416.2 203.5,423.8 201.0,436.5 185.7,439.0 150.2,406.0"/>
<polygon fill="#1e8cff" points="165.4,444.1 194.6,434.0 201.0,449.2 203.5,459.3 216.2,469.5 228.9,474.6 216.2,484.7 165.4,484.7"/>
<polygon fill="#1e8cff" points="228.9,472.0 302.5,472.0 302.5,484.7 228.9,484.7"/>
<polygon fill="#1e6cd8" points="188.3,449.2 198.4,449.2 203.5,459.3 216.2,469.5 228.9,474.6 223.8,484.7 190.8,484.7 189.5,464.4"/>
<polygon fill="#1e50b4" points="190.8,459.3 203.5,461.9 213.7,470.8 221.3,479.7 211.1,484.7 193.3,484.7"/>
<polygon fill="#1c3890" points="201.0,467.0 208.6,468.2 211.1,477.1 202.2,475.9"/>
<polygon fill="#00ecec" points="165.4,459.3 173.0,441.6 194.6,434.0 197.9,441.6 188.3,445.4 180.6,449.2 175.6,461.9 170.5,469.5"/>
<polygon fill="#00ecec" points="230.2,475.9 251.7,471.5 261.9,470.0 277.1,472.6 287.3,470.0 291.9,460.6 296.2,472.0 302.5,476.6 302.5,480.9 292.4,475.9 277.1,475.1 261.9,473.3 251.7,474.6 236.5,478.4"/>
<polygon fill="#1e8cff" points="290.0,459.3 452.5,398.4 452.5,484.7 290.0,484.7"/>
<polygon fill="#1e6cd8" points="409.4,441.6 422.1,431.4 432.2,423.8 452.5,411.1 452.5,484.7 401.7,484.7 406.8,474.6 399.2,464.4 404.3,454.3"/>
<polygon fill="#1e50b4" points="439.8,446.7 452.5,444.1 452.5,474.6 442.4,473.3 437.3,459.3"/>
<polygon fill="#1e50b4" points="408.1,458.1 415.7,455.5 417.0,467.0 409.4,469.5"/>
<polygon fill="#1e8cff" points="437.3,432.7 448.7,432.7 448.7,442.8 437.3,442.8"/>
<polygon fill="#00ecec" points="287.5,459.3 295.1,474.6 302.7,477.1 315.4,474.6 325.6,477.1 338.3,474.6 351.0,465.7 358.6,460.6 363.7,450.5 371.3,444.1 378.9,441.6 384.0,442.8 391.6,434.0 399.2,435.2 406.8,437.8 414.4,426.3 424.6,417.4 437.3,409.8 444.9,402.2 452.5,399.7 452.5,407.3 444.9,409.8 437.3,416.2 427.1,423.8 419.5,432.7 411.9,442.8 401.7,442.8 394.1,442.8 387.8,449.2 378.9,449.2 376.3,456.8 381.4,459.3 373.8,464.4 366.2,467.0 361.1,469.5 353.5,473.3 340.8,480.9 325.6,482.2 315.4,480.9 302.7,482.2 287.5,479.7"/>
<polygon fill="#1e6cd8" points="427.5,410.8 463.0,395.6 480.8,393.0 480.8,476.8 427.5,476.8"/>
<polygon fill="#1e50b4" points="455.4,403.2 480.8,394.3 506.2,390.5 521.4,379.0 549.4,372.7 582.4,367.1 582.4,476.8 455.4,476.8 463.0,456.5 457.9,436.2 465.6,418.4"/>
<polygon fill="#1e6cd8" points="435.1,433.7 447.8,433.7 447.8,443.8 435.1,443.8"/>
<polygon fill="#1e6cd8" points="460.5,410.8 470.6,410.8 470.6,421.0 460.5,421.0"/>
<polygon fill="#1e6cd8" points="445.2,461.6 463.0,461.6 463.0,471.7 445.2,471.7"/>
<polygon fill="#1c3890" points="488.4,410.8 501.1,398.1 516.3,385.4 531.6,381.6 549.4,374.0 582.4,368.9 582.4,476.8 488.4,476.8 493.5,456.5 491.0,436.2"/>
<polygon fill="#1e50b4" points="526.5,384.1 541.7,380.3 549.4,387.9 539.2,395.6 529.0,393.0"/>
<polygon fill="#1e50b4" points="557.0,374.0 572.2,371.4 574.8,382.9 562.1,385.4"/>
<polygon fill="#1a1a70" points="503.7,423.5 511.3,410.8 521.4,403.2 536.7,400.6 551.9,398.1 567.1,390.5 582.4,387.9 582.4,461.6 567.1,461.6 544.3,464.1 513.8,466.7 503.7,456.5 501.1,441.3"/>
<polygon fill="#ffffff" points="511.3,436.2 516.3,428.6 521.4,426.0 536.7,427.3 546.8,424.8 562.1,423.5 574.8,424.8 579.8,427.3 579.8,433.7 574.8,438.7 567.1,437.5 562.1,441.3 551.9,438.7 544.3,436.2 536.7,440.0 529.0,441.3 518.9,440.0 513.8,442.5"/>
<polygon fill="#ffffff" points="511.3,421.0 524.0,421.0 524.0,423.5 511.3,423.5"/>
<polygon fill="#ffffff" points="517.6,412.1 521.4,412.1 521.4,415.9 517.6,415.9"/>
<polygon fill="#ffffff" points="536.7,419.7 549.4,419.7 549.4,422.2 536.7,422.2"/>
<polygon fill="#ffffff" points="544.3,413.3 550.6,413.3 550.6,418.4 544.3,418.4"/>
<polygon fill="#ffffff" points="574.8,385.4 579.8,385.4 579.8,387.9 574.8,387.9"/>
<polygon fill="#ffffff" points="572.2,409.5 575.3,409.5 575.3,412.1 572.2,412.1"/>
<polygon fill="#ffffff" points="568.4,447.6 570.2,447.6 570.2,449.4 568.4,449.4"/>
<polygon fill="#ffffff" points="549.4,410.8 554.4,408.8 559.5,412.1 567.1,410.3 564.6,413.8 554.4,415.4"/>
<polygon fill="#1e8cff" points="427.5,412.1 440.2,405.7 450.3,399.4 463.0,394.3 480.8,390.5 496.0,387.9 506.2,387.9 516.3,380.3 516.3,386.7 506.2,393.0 496.0,393.0 480.8,396.8 463.0,401.9 450.3,407.0 440.2,413.3 427.5,421.0"/>
<polygon fill="#00ecec" points="427.5,412.1 440.2,405.7 450.3,399.4 463.0,394.3 480.8,390.5 496.0,387.9 506.2,387.9 516.3,380.3 518.9,381.6 506.2,390.5 496.0,391.0 480.8,394.3 463.0,398.6 450.3,403.7 440.2,410.0 427.5,417.1"/>
<polygon fill="#00ecec" points="430.0,200.0 570.0,200.0 570.0,311.1 430.0,311.1"/>
<polygon fill="#10d8d4" points="496.7,244.4 505.6,242.2 515.6,244.4 514.4,255.6 510.0,258.9 503.3,256.7 497.8,253.3"/>
<polygon fill="#1e8cff" points="496.7,235.1 502.2,232.2 505.6,234.4 502.2,238.9 496.7,239.6"/>
<polygon fill="#10d8d4" points="534.4,222.2 545.6,221.1 552.2,224.4 552.2,228.9 541.1,226.2 534.4,225.6"/>
<polygon fill="#1e8cff" points="448.9,278.9 453.3,276.7 456.2,277.8 452.2,281.1"/>
<polygon fill="#1e8cff" points="436.3,433.7 449.0,433.7 449.0,443.8 436.3,443.8"/>
<polygon fill="#1c3890" points="468.1,424.8 480.8,421.0 489.7,427.3 485.9,434.9 473.2,433.7"/>
<polygon fill="#1c3890" points="455.4,446.3 468.1,443.8 477.0,451.4 473.2,461.6 460.5,460.3"/>
<polygon fill="#1c3890" points="480.8,457.8 496.0,455.2 502.4,464.1 496.0,473.0 483.3,471.7"/>
<polygon fill="#1e6cd8" points="445.2,417.1 457.9,414.6 460.5,423.5 450.3,427.3"/>
<polygon fill="#00ecec" points="493.3,145.0 466.7,155.0 453.3,156.7 448.3,168.3 436.7,175.0 426.7,181.7 420.0,191.7 426.7,194.0 440.0,183.3 453.3,176.0 466.7,166.0 493.3,155.0"/>
<polygon fill="#1e6cd8" points="110.0,146.7 150.0,143.3 163.3,153.3 170.0,170.0 156.7,178.3 146.7,176.7 130.0,175.0 113.3,170.0 106.7,156.7"/>
<polygon fill="#1e50b4" points="116.7,163.3 136.7,150.0 141.7,153.3 123.3,168.3"/>
<polygon fill="#1c3890" points="270.0,150.0 290.0,146.7 313.3,150.0 326.7,160.0 323.3,180.0 313.3,187.3 296.7,183.3 280.0,180.0 273.3,166.7"/>
<polygon fill="#1c3890" points="193.3,106.7 213.3,103.3 223.3,116.7 216.7,130.0 200.0,131.7 191.7,120.0"/>
<polygon fill="#00ecec" points="106.8,69.4 119.1,63.1 121.8,65.8 112.7,71.6 109.1,75.2"/>
<polygon fill="#00ecec" points="74.9,87.4 82.1,82.0 88.4,78.1 93.8,81.1 101.0,80.2 108.2,77.5 107.9,81.1 101.0,83.1 93.8,84.2 88.4,82.0 83.0,86.0 78.5,90.5 74.9,94.3 72.2,91.9"/>
<polygon fill="#1e8cff" points="75.8,100.0 86.6,100.9 83.0,109.1 88.4,109.1 83.9,116.3 92.0,114.5 85.7,124.4 94.7,120.8 86.6,132.5 83.0,135.2 75.8,135.2"/>
</g>
<polygon fill="#fdefc8" points="541.6,0.0 582.2,0.0 582.2,73.7 551.2,59.7"/>
<polygon fill="#fdefc8" points="334.0,482.6 346.0,481.6 390.0,478.7 450.0,474.5 510.0,467.8 579.0,459.7 579.0,483.0 346.0,483.0"/>
<polygon fill="#fdefc8" points="341.5,3.0 388.0,3.0 388.0,4.6 360.0,5.2 341.5,6.0"/>
<polygon fill="#fdefc8" points="341.8,18.0 346.5,23.0 341.8,23.5"/>
</g>
<g filter="url(#wig)">
<polyline points="122.7,61.3 126.3,64.0 129.9,62.2 137.1,67.6 145.0,72.7 153.0,73.0 163.0,73.0 176.7,73.0 186.7,72.7 190.0,71.0 195.0,74.0 206.7,76.0 220.0,78.0 230.0,80.7 233.3,82.7 246.7,82.7 256.7,80.7 263.3,78.3 273.3,82.7 286.7,81.7 296.7,81.7 303.3,85.0 313.3,86.0 323.3,83.3 331.7,81.7 336.7,73.3 337.3,60.0 339.3,40.0 340.7,20.0 340.7,3.0" fill="none" stroke="#a01a0a" stroke-width="1.5" stroke-linejoin="round"/>
<polyline points="579.0,68.3 570.0,66.0 563.3,61.7 556.7,60.0 548.3,61.7 536.7,60.0 526.7,59.3 520.0,57.3 511.7,63.3 500.0,71.7 491.7,80.0 487.7,90.0 489.3,100.0 494.0,110.0 500.7,116.7 499.3,121.7 500.0,133.3 496.0,141.7 490.0,146.7 485.0,148.3 476.7,156.7 466.7,168.3 450.0,175.0 436.7,180.0 426.7,186.7 420.0,195.0 425.0,200.7 418.3,205.0 413.3,208.3 410.0,216.7 403.3,226.7 396.7,238.3 391.7,246.7 387.3,258.3 386.7,270.0 390.0,281.7 395.0,286.7 406.7,292.7 407.3,296.7 400.0,303.3 390.0,310.0 383.3,316.7 381.7,325.0 376.7,333.3 375.0,343.3 376.7,350.7 371.7,352.7 361.7,355.0 353.3,358.3 343.3,365.0 336.7,373.3 333.3,383.3 330.0,391.7 325.0,396.7 316.7,393.3 313.3,392.3 306.7,394.7 300.0,399.7 290.0,395.7 280.0,396.3 266.7,398.0 250.0,397.0 236.7,399.0 228.3,404.7 220.0,409.0 210.0,411.3 200.0,419.7 195.0,429.7 186.7,432.0 176.7,424.7 168.3,418.0 165.0,411.3 160.0,403.0 156.7,394.7 151.7,386.3 143.3,378.0 133.3,372.3 120.0,372.3 106.7,373.0 98.3,378.0 91.7,379.0 83.3,374.7 70.0,373.0 60.0,375.7 65.0,359.7 68.3,346.0 66.7,333.0 70.7,323.0 71.0,317.0 72.3,309.6 68.8,307.0 65.9,304.8 60.6,307.0 55.6,307.0 57.6,302.7 55.6,298.9 57.5,297.2 62.6,298.2 63.2,295.5 68.2,293.0 64.5,285.6 60.6,293.0 57.3,295.2 54.9,295.2 49.6,295.5 46.7,294.0 46.7,291.2 50.1,286.3 50.3,277.7 58.0,261.7 66.7,250.0 73.0,236.7 75.0,223.0 80.0,213.0 84.0,203.0 84.0,186.7 82.7,173.0 81.0,153.0 82.7,145.1 83.0,135.2 85.7,131.6 89.3,128.0 93.8,121.7 90.2,124.4 84.8,128.0 83.9,124.4 87.5,120.8 91.1,115.4 86.6,117.2 82.1,119.0 83.0,115.4 87.5,110.0 81.2,112.7 77.6,114.5 78.5,110.9 82.1,107.3 85.7,102.7 81.2,103.6 76.7,104.5 77.6,100.9 74.9,99.1 72.6,96.4 73.1,91.0 75.8,88.3 78.5,85.6 82.1,82.9 85.7,82.0 88.4,78.4 93.8,82.0 99.2,81.1 104.6,79.3 108.2,78.4 107.3,73.0 110.0,70.3 114.5,67.6 119.1,64.9 122.7,61.3" fill="none" stroke="#a01a0a" stroke-width="1.5" stroke-linejoin="round"/>
<polyline points="168.3,463.0 173.3,446.3 183.3,441.3 195.0,438.0 198.3,444.7 200.0,449.7 203.3,458.0 213.3,466.3 223.3,471.3 233.3,474.7 250.0,471.3 260.0,469.7 266.7,471.3 280.0,471.3 288.3,468.0 291.0,461.3 295.0,469.7 300.0,476.3 310.0,478.0 316.7,476.3 325.0,479.7 333.3,477.0 346.7,471.3 356.7,466.3 363.3,458.0 366.7,449.7 376.7,443.0 386.7,441.3 393.3,436.3 396.7,434.7 403.3,439.7 410.0,434.7 415.0,424.7 423.3,416.3 433.3,409.7 443.3,403.0 460.0,398.0 476.7,394.7 496.7,390.3 510.0,386.3 518.3,379.0 530.0,378.0 543.3,376.3 555.0,369.0 566.7,368.0 579.0,365.7" fill="none" stroke="#a01a0a" stroke-width="1.5" stroke-linejoin="round"/>
<polygon points="482.7,247.8 486.7,244.4 491.1,241.1 495.6,235.6 501.1,231.1 506.7,230.0 508.9,227.8 511.1,227.8 511.8,232.2 510.0,234.4 513.3,236.7 517.8,235.1 522.2,236.7 522.2,242.2 520.0,247.8 517.8,253.3 514.4,256.7 511.1,260.0 506.7,257.3 501.1,256.7 497.8,253.3 496.7,248.9 493.3,250.0 490.0,253.3 485.6,251.6 483.3,250.0" fill="none" stroke="#a01a0a" stroke-width="1.5" stroke-linejoin="round"/>
<polygon points="532.7,220.0 536.7,218.9 541.1,218.2 544.4,217.3 547.8,219.6 551.1,222.2 552.2,226.7 550.0,228.9 546.7,227.1 542.2,225.6 537.8,224.9 534.0,225.6 532.7,222.2" fill="none" stroke="#a01a0a" stroke-width="1.5" stroke-linejoin="round"/>
<polygon points="444.4,282.2 446.7,277.8 451.1,275.1 455.6,273.8 458.4,275.6 457.8,280.0 454.4,284.0 451.1,286.7 446.7,287.1 444.4,285.6" fill="none" stroke="#a01a0a" stroke-width="1.5" stroke-linejoin="round"/>
<polygon points="451.6,292.2 453.3,291.1 454.9,294.4 458.9,293.8 459.6,296.0 455.6,296.7 452.2,297.3 451.1,295.1" fill="none" stroke="#a01a0a" stroke-width="1.5" stroke-linejoin="round"/>
<polygon points="505.1,265.6 507.8,265.6 507.8,267.8 505.1,267.8" fill="none" stroke="#a01a0a" stroke-width="1.5" stroke-linejoin="round"/>
<polyline points="128.1,64.0 123.5,74.1 120.4,83.0 118.4,93.2 118.9,104.6 117.9,116.5" fill="none" stroke="#a01a0a" stroke-width="1.4" stroke-linejoin="round"/>
<polyline points="145.1,74.1 143.8,80.5 147.6,86.8 151.9,91.9 156.5,97.0 156.0,103.3" fill="none" stroke="#a01a0a" stroke-width="1.4" stroke-linejoin="round"/>
<polyline points="84.1,112.2 90.5,108.4 100.6,104.6 110.8,102.8 118.4,103.8" fill="none" stroke="#a01a0a" stroke-width="1.4" stroke-linejoin="round"/>
<polyline points="117.9,116.5 110.8,117.3 104.4,118.6 101.9,123.7 105.7,128.7 108.8,133.8 108.3,138.9 105.7,144.0 107.0,149.0 110.8,151.1" fill="none" stroke="#a01a0a" stroke-width="1.4" stroke-linejoin="round"/>
<polyline points="117.9,116.5 122.2,122.4 128.6,126.2 134.9,124.2 141.3,126.7 146.3,123.7 148.9,122.4" fill="none" stroke="#a01a0a" stroke-width="1.4" stroke-linejoin="round"/>
<polyline points="156.0,103.3 152.7,109.7 148.9,114.8 146.9,118.6 148.9,122.4" fill="none" stroke="#a01a0a" stroke-width="1.4" stroke-linejoin="round"/>
<polyline points="148.9,122.4 152.7,124.9 155.2,130.0 154.0,133.8 150.2,137.6 147.6,141.4 146.3,146.0" fill="none" stroke="#a01a0a" stroke-width="1.4" stroke-linejoin="round"/>
<polyline points="82.3,135.1 90.5,131.8 99.4,135.1 108.8,133.8" fill="none" stroke="#a01a0a" stroke-width="1.4" stroke-linejoin="round"/>
<polyline points="110.8,151.1 118.4,149.6 126.5,148.5 133.7,152.1 141.3,147.8 146.3,146.0" fill="none" stroke="#a01a0a" stroke-width="1.4" stroke-linejoin="round"/>
<polyline points="156.0,103.3 162.9,102.1 169.2,99.5 174.3,97.7 181.9,98.8 192.1,98.3 202.2,98.3 212.4,97.7 219.7,93.7" fill="none" stroke="#a01a0a" stroke-width="1.4" stroke-linejoin="round"/>
<polyline points="155.2,133.8 161.6,135.1 169.2,136.3 176.8,138.4 184.4,139.4 192.1,140.2 198.4,144.5 201.0,147.8" fill="none" stroke="#a01a0a" stroke-width="1.4" stroke-linejoin="round"/>
<polyline points="146.3,146.0 152.7,147.0 160.3,146.5 162.9,150.3 162.9,156.7 164.6,163.0 169.2,166.8 171.7,171.4 169.2,177.0" fill="none" stroke="#a01a0a" stroke-width="1.4" stroke-linejoin="round"/>
<polyline points="201.0,147.8 204.8,137.6 212.4,135.1 219.7,132.5" fill="none" stroke="#a01a0a" stroke-width="1.4" stroke-linejoin="round"/>
<polyline points="201.0,147.8 206.0,154.1 204.3,161.7 206.8,171.9 206.0,177.0" fill="none" stroke="#a01a0a" stroke-width="1.4" stroke-linejoin="round"/>
<polyline points="234.3,84.1 233.0,90.0 222.9,94.3 215.2,95.6 207.6,98.1 200.0,101.9" fill="none" stroke="#a01a0a" stroke-width="1.4" stroke-linejoin="round"/>
<polyline points="233.0,90.0 240.6,96.8 245.7,98.1 247.0,107.0 252.1,107.0 254.6,100.6 261.0,95.6 268.6,91.7 276.2,85.4 282.5,84.1" fill="none" stroke="#a01a0a" stroke-width="1.4" stroke-linejoin="round"/>
<polyline points="221.6,95.6 220.8,110.8 220.3,123.5 217.8,133.7 215.2,136.2 205.1,136.2 202.5,138.7 203.8,161.6 205.1,171.7 203.8,187.0" fill="none" stroke="#a01a0a" stroke-width="1.4" stroke-linejoin="round"/>
<polyline points="247.0,107.0 241.9,114.6 240.6,126.0 244.4,136.2 249.5,146.3 253.3,148.9 250.8,154.0 252.1,166.7 253.3,171.7" fill="none" stroke="#a01a0a" stroke-width="1.4" stroke-linejoin="round"/>
<polyline points="217.8,136.2 216.5,146.3 220.3,154.0 227.9,152.7 233.0,157.8 240.6,159.0 248.3,155.2 250.8,154.0" fill="none" stroke="#a01a0a" stroke-width="1.4" stroke-linejoin="round"/>
<polyline points="276.2,85.4 273.7,91.7 280.0,95.6 285.1,98.1 281.3,104.4 277.5,107.0 283.8,113.3 286.3,117.1 282.5,121.0" fill="none" stroke="#a01a0a" stroke-width="1.4" stroke-linejoin="round"/>
<polyline points="285.1,98.1 291.4,99.4 297.8,100.6 301.6,95.6 301.6,89.2 304.6,86.7" fill="none" stroke="#a01a0a" stroke-width="1.4" stroke-linejoin="round"/>
<polyline points="301.6,95.6 309.2,101.9 316.8,98.1 321.9,90.5 325.7,85.4" fill="none" stroke="#a01a0a" stroke-width="1.4" stroke-linejoin="round"/>
<polyline points="309.2,101.9 311.7,108.3 307.9,114.6 304.1,118.4 302.9,122.2" fill="none" stroke="#a01a0a" stroke-width="1.4" stroke-linejoin="round"/>
<polyline points="282.5,121.0 288.9,118.9 295.2,122.2 302.9,122.2 309.2,126.0 316.8,129.8 324.4,134.9 329.5,138.7" fill="none" stroke="#a01a0a" stroke-width="1.4" stroke-linejoin="round"/>
<polyline points="282.5,121.0 281.3,128.6 283.8,134.9 282.5,138.7 287.6,142.5 292.7,145.1 297.8,143.8 304.1,141.3 310.5,140.8 315.6,145.1 324.4,147.6 327.0,141.3 329.5,138.7" fill="none" stroke="#a01a0a" stroke-width="1.4" stroke-linejoin="round"/>
<polyline points="325.7,85.4 332.1,86.7 338.4,90.5 339.7,95.6 347.3,98.1 354.9,100.6 362.5,101.9" fill="none" stroke="#a01a0a" stroke-width="1.4" stroke-linejoin="round"/>
<polyline points="355.4,101.1 351.1,110.8 346.0,119.7 344.3,126.0 341.0,136.2 345.3,143.8 341.7,149.4 334.6,148.4 329.5,138.7" fill="none" stroke="#a01a0a" stroke-width="1.4" stroke-linejoin="round"/>
<polyline points="287.6,142.5 283.8,148.9 276.2,154.0 272.4,161.6 266.0,166.7 259.7,170.5 253.3,171.7" fill="none" stroke="#a01a0a" stroke-width="1.4" stroke-linejoin="round"/>
<polyline points="253.3,171.7 245.7,174.3 235.6,178.1 233.0,187.0" fill="none" stroke="#a01a0a" stroke-width="1.4" stroke-linejoin="round"/>
<polyline points="324.4,147.6 321.9,156.5 319.4,166.7 316.8,176.8 315.6,187.0" fill="none" stroke="#a01a0a" stroke-width="1.4" stroke-linejoin="round"/>
<polyline points="172.1,170.0 167.0,177.6 159.4,181.4 151.7,185.2 147.9,192.9 150.5,203.0 151.7,213.2 150.5,224.6 142.9,228.9 144.1,234.8 146.7,238.6 142.9,246.2 141.6,253.8 132.7,254.3 122.5,253.8 127.6,261.4 130.2,266.5 132.7,271.6 135.2,279.2 140.3,281.7 141.6,286.8 137.8,291.9 134.0,297.0" fill="none" stroke="#a01a0a" stroke-width="1.4" stroke-linejoin="round"/>
<polyline points="150.5,224.6 159.4,220.8 167.0,218.3 172.1,217.0 178.4,223.3 183.5,228.4 192.4,220.8 201.3,214.4" fill="none" stroke="#a01a0a" stroke-width="1.4" stroke-linejoin="round"/>
<polyline points="167.0,178.1 177.1,181.4 182.2,185.2 189.8,182.7 201.3,181.4" fill="none" stroke="#a01a0a" stroke-width="1.4" stroke-linejoin="round"/>
<polyline points="136.5,267.8 141.6,265.2 149.2,271.6 156.8,276.7 165.7,279.2 172.1,284.3 179.7,281.7 189.8,279.2 201.3,277.9" fill="none" stroke="#a01a0a" stroke-width="1.4" stroke-linejoin="round"/>
<polyline points="137.8,290.0 135.2,297.6 128.9,305.2 127.6,312.9 131.4,320.5 135.2,324.3 140.3,324.3 137.8,330.6 127.6,334.4 121.3,343.3 117.5,351.0 116.2,357.3 118.7,363.7 120.0,372.5" fill="none" stroke="#a01a0a" stroke-width="1.4" stroke-linejoin="round"/>
<polyline points="140.3,324.3 145.4,328.1 151.7,330.6 159.4,333.2 165.7,335.7 169.5,339.5 168.3,344.6" fill="none" stroke="#a01a0a" stroke-width="1.4" stroke-linejoin="round"/>
<polyline points="168.3,344.6 159.4,347.1 155.6,351.0 159.4,357.3 160.6,366.2 159.4,376.3 158.9,386.5 160.6,391.6" fill="none" stroke="#a01a0a" stroke-width="1.4" stroke-linejoin="round"/>
<polyline points="169.5,339.5 177.1,335.7 183.5,331.9 187.3,329.4 192.4,330.6 194.9,325.6 192.4,315.4 201.3,309.0" fill="none" stroke="#a01a0a" stroke-width="1.4" stroke-linejoin="round"/>
<polyline points="192.4,330.6 194.9,338.3 198.7,348.4 201.3,356.0" fill="none" stroke="#a01a0a" stroke-width="1.4" stroke-linejoin="round"/>
<polyline points="160.6,387.8 172.1,390.3 182.2,389.0 189.8,386.5 196.2,384.0 201.3,385.2" fill="none" stroke="#a01a0a" stroke-width="1.4" stroke-linejoin="round"/>
<polyline points="178.7,185.2 187.6,182.7 195.2,184.0 205.4,185.2 210.5,187.8" fill="none" stroke="#a01a0a" stroke-width="1.4" stroke-linejoin="round"/>
<polyline points="205.4,170.0 204.6,177.6 205.4,185.2" fill="none" stroke="#a01a0a" stroke-width="1.4" stroke-linejoin="round"/>
<polyline points="210.5,187.8 218.1,186.5 225.7,187.8 230.8,181.4 234.6,175.1 234.6,170.0" fill="none" stroke="#a01a0a" stroke-width="1.4" stroke-linejoin="round"/>
<polyline points="225.7,187.8 229.5,195.4 233.3,203.0 237.1,209.4 241.0,211.9" fill="none" stroke="#a01a0a" stroke-width="1.4" stroke-linejoin="round"/>
<polyline points="241.0,211.9 247.3,206.8 256.2,199.2 263.8,192.9 270.2,187.8 277.8,181.4 282.9,180.2 289.2,180.2 296.8,182.7 301.9,189.0 312.1,191.6 319.7,187.8 327.3,190.3 334.9,194.1 341.3,195.4" fill="none" stroke="#a01a0a" stroke-width="1.4" stroke-linejoin="round"/>
<polyline points="270.2,187.8 263.8,180.2 260.0,173.8 258.7,170.0" fill="none" stroke="#a01a0a" stroke-width="1.4" stroke-linejoin="round"/>
<polyline points="317.1,170.0 315.9,177.6 319.7,184.0 319.7,187.8" fill="none" stroke="#a01a0a" stroke-width="1.4" stroke-linejoin="round"/>
<polyline points="210.5,187.8 213.0,195.4 209.2,204.3 202.9,210.6 196.5,217.0 190.2,222.1 182.5,224.6 178.7,225.9" fill="none" stroke="#a01a0a" stroke-width="1.4" stroke-linejoin="round"/>
<polyline points="190.2,222.1 195.2,227.1 201.6,229.7 210.5,233.5 218.1,231.0 224.4,228.4 230.8,231.0" fill="none" stroke="#a01a0a" stroke-width="1.4" stroke-linejoin="round"/>
<polyline points="241.0,211.9 237.1,219.5 232.1,227.1 230.8,231.0 238.4,229.7 244.8,228.4 249.8,232.2 256.2,234.8 263.8,238.6 267.6,239.8 261.3,243.7 256.2,246.2 260.0,246.2 267.6,239.8 276.5,238.6 284.1,237.3" fill="none" stroke="#a01a0a" stroke-width="1.4" stroke-linejoin="round"/>
<polyline points="270.2,187.8 268.9,195.4 272.7,205.6 277.8,214.4 280.3,223.3 284.1,231.0 284.1,237.3" fill="none" stroke="#a01a0a" stroke-width="1.4" stroke-linejoin="round"/>
<polyline points="284.1,237.3 291.7,229.7 294.3,222.1 301.9,218.3 309.5,213.2 317.1,210.6 322.2,211.9 327.3,218.3 332.4,224.6 341.3,231.0" fill="none" stroke="#a01a0a" stroke-width="1.4" stroke-linejoin="round"/>
<polyline points="317.1,210.6 322.2,200.5 329.8,195.4 334.9,194.1" fill="none" stroke="#a01a0a" stroke-width="1.4" stroke-linejoin="round"/>
<polyline points="201.6,229.7 200.3,243.7 204.1,251.3 207.9,257.6 209.2,264.0 214.3,267.8 218.1,271.6" fill="none" stroke="#a01a0a" stroke-width="1.4" stroke-linejoin="round"/>
<polyline points="218.1,271.6 219.4,265.2 224.4,267.8 230.8,265.2 237.1,266.5 244.8,262.7 249.8,264.0 248.6,270.3 256.2,274.1 266.3,272.9 276.5,270.3 281.6,266.5 290.5,267.8" fill="none" stroke="#a01a0a" stroke-width="1.4" stroke-linejoin="round"/>
<polyline points="284.1,237.3 282.9,246.2 287.9,255.1 290.5,261.4 290.5,267.8" fill="none" stroke="#a01a0a" stroke-width="1.4" stroke-linejoin="round"/>
<polyline points="290.5,267.8 296.8,272.9 304.4,274.1 312.1,275.4 322.2,272.9 332.4,270.3 341.3,269.0" fill="none" stroke="#a01a0a" stroke-width="1.4" stroke-linejoin="round"/>
<polyline points="296.8,272.9 294.3,281.7 293.0,289.4 294.3,297.0" fill="none" stroke="#a01a0a" stroke-width="1.4" stroke-linejoin="round"/>
<polyline points="218.1,271.6 213.0,270.3 205.4,272.9 197.8,276.7 190.2,281.7 178.7,284.3" fill="none" stroke="#a01a0a" stroke-width="1.4" stroke-linejoin="round"/>
<polyline points="218.1,271.6 220.6,279.2 216.8,286.8 218.1,297.0" fill="none" stroke="#a01a0a" stroke-width="1.4" stroke-linejoin="round"/>
<polyline points="218.1,290.0 216.8,296.3 213.0,301.4 205.4,304.0 199.0,309.0 192.7,315.4 191.4,323.0 188.9,328.1 182.5,328.1 178.7,326.8" fill="none" stroke="#a01a0a" stroke-width="1.4" stroke-linejoin="round"/>
<polyline points="188.9,328.1 192.7,333.2 196.5,339.5 197.8,347.1 199.0,352.2 207.9,351.5 213.0,353.5 215.6,361.1 220.6,367.5 225.7,371.3 230.8,372.5 234.6,370.0 239.7,371.3 242.2,368.7" fill="none" stroke="#a01a0a" stroke-width="1.4" stroke-linejoin="round"/>
<polyline points="213.0,301.4 219.4,305.2 228.3,311.6 234.6,315.4 241.0,319.2" fill="none" stroke="#a01a0a" stroke-width="1.4" stroke-linejoin="round"/>
<polyline points="241.0,319.2 243.5,328.1 241.0,338.3 241.0,348.4 243.5,357.3 248.6,363.7 242.2,368.7" fill="none" stroke="#a01a0a" stroke-width="1.4" stroke-linejoin="round"/>
<polyline points="241.0,319.2 251.1,317.9 261.3,316.7 267.6,317.9 274.0,315.4 281.6,314.9 289.2,315.4 298.1,313.4" fill="none" stroke="#a01a0a" stroke-width="1.4" stroke-linejoin="round"/>
<polyline points="294.3,290.0 298.1,297.6 299.4,305.2 298.1,313.4 305.7,316.7 308.3,323.0 309.5,330.6" fill="none" stroke="#a01a0a" stroke-width="1.4" stroke-linejoin="round"/>
<polyline points="248.6,363.7 253.7,366.2 260.0,362.4 266.3,358.6 272.7,354.8 281.6,354.8 289.2,353.5 291.7,348.4 295.6,342.1 299.4,337.0 304.4,334.4 309.5,330.6" fill="none" stroke="#a01a0a" stroke-width="1.4" stroke-linejoin="round"/>
<polyline points="309.5,330.6 314.6,331.9 318.4,328.1 324.8,323.0 332.4,319.2 341.3,317.9" fill="none" stroke="#a01a0a" stroke-width="1.4" stroke-linejoin="round"/>
<polyline points="309.5,331.1 318.4,335.2 317.1,340.8 313.3,347.1 312.1,353.5 307.0,359.8 301.9,364.9 298.1,371.3 294.3,375.1 293.0,380.2 290.5,387.8 287.9,395.4" fill="none" stroke="#a01a0a" stroke-width="1.4" stroke-linejoin="round"/>
<polyline points="318.4,335.2 327.3,342.1 328.6,349.7 332.4,357.3 336.2,362.4 341.3,366.2" fill="none" stroke="#a01a0a" stroke-width="1.4" stroke-linejoin="round"/>
<polyline points="242.2,368.7 242.2,377.6 246.0,385.2 253.7,390.3 258.7,394.1 260.0,397.9" fill="none" stroke="#a01a0a" stroke-width="1.4" stroke-linejoin="round"/>
<polyline points="178.7,387.8 187.6,386.5 191.4,382.7 196.5,385.2 202.9,384.0 207.9,377.6 213.0,375.1 218.1,376.3 224.4,372.5 230.8,372.5" fill="none" stroke="#a01a0a" stroke-width="1.4" stroke-linejoin="round"/>
<polyline points="196.5,385.2 200.3,391.6 197.8,399.2 192.7,405.6 188.9,409.4 191.4,414.4" fill="none" stroke="#a01a0a" stroke-width="1.4" stroke-linejoin="round"/>
<polyline points="317.8,170.0 315.7,178.9 319.0,187.8" fill="none" stroke="#a01a0a" stroke-width="1.4" stroke-linejoin="round"/>
<polyline points="298.7,184.0 310.2,187.8 319.0,187.8 327.9,191.6 335.6,195.4 338.1,199.2 334.3,210.6 331.7,220.8 338.1,227.1 343.2,233.5 350.8,237.3 354.6,239.8" fill="none" stroke="#a01a0a" stroke-width="1.4" stroke-linejoin="round"/>
<polyline points="335.6,195.4 341.9,190.3 349.5,186.5 358.4,185.2 363.5,184.0 369.8,178.9 371.1,175.1 376.2,177.6 383.8,182.7 391.4,185.2 400.3,186.5 401.6,180.2 404.1,173.8 401.6,170.0" fill="none" stroke="#a01a0a" stroke-width="1.4" stroke-linejoin="round"/>
<polyline points="400.3,186.5 402.9,194.1 401.6,201.7 395.2,203.0 387.6,201.7 382.5,205.6 381.3,211.9 383.8,219.5 381.3,227.1 373.7,231.0 368.6,237.3 363.5,239.8" fill="none" stroke="#a01a0a" stroke-width="1.4" stroke-linejoin="round"/>
<polyline points="401.6,201.7 406.7,204.3 413.0,208.1" fill="none" stroke="#a01a0a" stroke-width="1.4" stroke-linejoin="round"/>
<polyline points="354.6,239.8 363.5,239.8 368.6,244.9 372.4,248.7 378.7,252.5 385.1,248.2 388.9,252.5 387.6,255.1" fill="none" stroke="#a01a0a" stroke-width="1.4" stroke-linejoin="round"/>
<polyline points="354.6,239.8 352.1,246.2 348.3,253.8 344.4,258.9 341.9,265.2 345.7,270.3 353.3,271.6 354.6,279.2 358.4,286.8 363.5,289.4 364.8,297.0" fill="none" stroke="#a01a0a" stroke-width="1.4" stroke-linejoin="round"/>
<polyline points="341.9,265.2 335.6,270.3 327.9,272.9 321.6,271.6 315.2,274.1 307.6,272.9 298.7,272.9" fill="none" stroke="#a01a0a" stroke-width="1.4" stroke-linejoin="round"/>
<polyline points="298.7,215.7 305.1,213.2 311.4,210.6 317.8,209.4 322.9,211.9 327.9,217.0 331.7,220.8" fill="none" stroke="#a01a0a" stroke-width="1.4" stroke-linejoin="round"/>
<polyline points="352.1,280.0 354.6,287.6 362.2,291.4 364.8,296.5 363.5,301.6" fill="none" stroke="#a01a0a" stroke-width="1.4" stroke-linejoin="round"/>
<polyline points="363.5,301.6 369.8,299.0 376.2,297.8 383.8,294.0 391.4,291.4 396.5,290.2" fill="none" stroke="#a01a0a" stroke-width="1.4" stroke-linejoin="round"/>
<polyline points="363.5,301.6 362.2,307.9 361.0,315.6" fill="none" stroke="#a01a0a" stroke-width="1.4" stroke-linejoin="round"/>
<polyline points="354.6,299.0 347.0,304.1 345.2,315.6 338.1,319.4 331.7,318.1 324.1,323.2 316.5,330.8 310.2,337.1" fill="none" stroke="#a01a0a" stroke-width="1.4" stroke-linejoin="round"/>
<polyline points="361.0,315.6 364.8,323.2 366.0,330.8 369.8,338.4 373.7,344.8 374.9,351.1" fill="none" stroke="#a01a0a" stroke-width="1.4" stroke-linejoin="round"/>
<polyline points="310.2,337.1 315.2,339.7 325.4,342.2 326.7,348.6 329.2,354.9 335.6,361.3 340.6,365.1" fill="none" stroke="#a01a0a" stroke-width="1.4" stroke-linejoin="round"/>
<polyline points="338.7,95.4 347.6,97.9 357.8,101.7 365.4,104.3 373.0,108.1 380.6,109.4 388.3,110.6 395.9,108.1 403.5,109.4 409.8,105.6 413.7,101.7 421.3,103.0 428.9,105.6 434.0,110.6 439.0,113.2 446.7,115.7 454.3,117.0 458.1,120.8 461.9,119.5 467.0,117.0 474.6,115.7 482.2,113.2 489.8,111.9 494.9,114.4 498.7,117.0" fill="none" stroke="#a01a0a" stroke-width="1.4" stroke-linejoin="round"/>
<polyline points="446.7,115.7 447.9,120.8 453.0,124.6 458.1,120.8" fill="none" stroke="#a01a0a" stroke-width="1.4" stroke-linejoin="round"/>
<polyline points="357.8,103.0 355.2,113.2 348.9,123.3 343.8,131.0 341.3,138.6 343.8,143.7 338.7,147.5" fill="none" stroke="#a01a0a" stroke-width="1.4" stroke-linejoin="round"/>
<polyline points="357.8,103.0 359.0,114.4 360.3,125.9 362.9,133.5 361.6,142.4 367.9,147.5 373.0,153.8 381.9,158.9 388.3,166.5 390.8,171.6 398.4,171.6 402.2,170.3" fill="none" stroke="#a01a0a" stroke-width="1.4" stroke-linejoin="round"/>
<polyline points="409.8,105.6 411.1,113.2 413.7,123.3 413.7,133.5 412.4,142.4 407.3,148.7 403.5,156.3 402.2,164.0 402.2,170.3" fill="none" stroke="#a01a0a" stroke-width="1.4" stroke-linejoin="round"/>
<polyline points="402.2,170.3 404.8,174.1 403.5,181.7 399.7,186.8 401.0,191.9 403.5,197.0" fill="none" stroke="#a01a0a" stroke-width="1.4" stroke-linejoin="round"/>
<polyline points="404.8,174.1 413.7,172.9 421.3,170.3 428.9,166.5 435.2,161.4 439.0,157.6" fill="none" stroke="#a01a0a" stroke-width="1.4" stroke-linejoin="round"/>
<polyline points="439.0,157.6 437.8,151.3 441.6,146.2 446.7,141.1 449.2,133.5 451.7,128.4 453.0,124.6" fill="none" stroke="#a01a0a" stroke-width="1.4" stroke-linejoin="round"/>
<polyline points="439.0,157.6 444.1,164.0 447.9,170.3 449.2,174.1" fill="none" stroke="#a01a0a" stroke-width="1.4" stroke-linejoin="round"/>
<polyline points="458.1,120.8 460.6,128.9 469.5,131.0 473.3,134.8 470.8,141.1 477.1,146.2 486.0,144.9 489.8,142.4" fill="none" stroke="#a01a0a" stroke-width="1.4" stroke-linejoin="round"/>
<polyline points="338.7,191.9 347.6,188.1 355.2,184.3 362.9,183.0 367.9,179.2 370.5,175.4 374.3,177.9 378.1,183.0 388.3,184.3 395.9,186.8 401.0,191.9" fill="none" stroke="#a01a0a" stroke-width="1.4" stroke-linejoin="round"/>
</g>
<rect x="29" y="464.5" width="161" height="18" fill="#ffffff"/>
<circle cx="37.7" cy="473.2" r="5" fill="none" stroke="#2a62c8" stroke-width="0.9"/>
<path d="M39.9 471.6 A2.7 2.7 0 1 0 39.9 474.8" fill="none" stroke="#2a62c8" stroke-width="0.9"/>
<text x="47.7" y="476.6" font-family="Liberation Sans, sans-serif" font-size="10px" fill="#2a62c8" textLength="139" lengthAdjust="spacingAndGlyphs">Agencia Estatal de Meteorología</text>
<g fill="none" stroke="#ffffff" stroke-linecap="round"><path d="M488 459.5 C494 456.5 503 457.5 507.5 460.5" stroke-width="2"/><path d="M489.5 462.5 C494 459.8 501 460.5 505.5 463.5" stroke-width="1.6"/><path d="M491 470 C488.5 465 493 461.5 497.5 463 C502 464.5 501.5 470.5 496.5 470.8 C492 471 492.5 466 496 466" stroke-width="1.3"/><path d="M503.5 465 C505 468 504 471 501 472.5" stroke-width="1.3"/><path d="M488.5 473.5 C492 474.5 498 474 502.5 472" stroke-width="1" opacity="0.8"/></g>
<circle cx="507.2" cy="466.2" r="0.9" fill="#fff"/>
<text transform="translate(511.3,472) scale(1.17,1)" font-family="Liberation Sans, sans-serif" font-weight="bold" font-size="18px" fill="#ffffff" fill-opacity="0.93">aemet</text>
</g>
<rect x="28.5" y="3.5" width="550" height="479" fill="none" stroke="#000" stroke-width="1"/>
<rect x="583" y="12.00" width="18" height="14.76" fill="#803814"/>
<rect x="583" y="26.45" width="18" height="14.76" fill="#a03838"/>
<rect x="583" y="40.91" width="18" height="14.76" fill="#b83858"/>
<rect x="583" y="55.37" width="18" height="14.76" fill="#cc3870"/>
<rect x="583" y="69.82" width="18" height="14.76" fill="#e03890"/>
<rect x="583" y="84.28" width="18" height="14.76" fill="#ff30b0"/>
<rect x="583" y="98.73" width="18" height="14.76" fill="#ff0000"/>
<rect x="583" y="113.19" width="18" height="14.76" fill="#ff8000"/>
<rect x="583" y="127.64" width="18" height="14.76" fill="#ffa000"/>
<rect x="583" y="142.09" width="18" height="14.76" fill="#ffbc00"/>
<rect x="583" y="156.55" width="18" height="14.76" fill="#ffd800"/>
<rect x="583" y="171.00" width="18" height="14.76" fill="#ffff00"/>
<rect x="583" y="185.46" width="18" height="14.76" fill="#c8f80c"/>
<rect x="583" y="199.91" width="18" height="14.76" fill="#60f860"/>
<rect x="583" y="214.37" width="18" height="14.76" fill="#20aca0"/>
<rect x="583" y="228.82" width="18" height="14.76" fill="#18c4bc"/>
<rect x="583" y="243.28" width="18" height="14.76" fill="#10d8d4"/>
<rect x="583" y="257.74" width="18" height="14.76" fill="#00ecec"/>
<rect x="583" y="272.19" width="18" height="14.76" fill="#1e8cff"/>
<rect x="583" y="286.64" width="18" height="14.76" fill="#1e6cd8"/>
<rect x="583" y="301.10" width="18" height="14.76" fill="#1e50b4"/>
<rect x="583" y="315.56" width="18" height="14.76" fill="#1c3890"/>
<rect x="583" y="330.01" width="18" height="14.76" fill="#1a1a70"/>
<text class="lg" transform="translate(603.6,17.9) scale(0.89,1)">50</text>
<text class="lg" transform="translate(603.6,32.4) scale(0.89,1)">44</text>
<text class="lg" transform="translate(603.6,46.8) scale(0.89,1)">42</text>
<text class="lg" transform="translate(603.6,61.3) scale(0.89,1)">40</text>
<text class="lg" transform="translate(603.6,75.7) scale(0.89,1)">38</text>
<text class="lg" transform="translate(603.6,90.2) scale(0.89,1)">36</text>
<text class="lg" transform="translate(603.6,104.6) scale(0.89,1)">34</text>
<text class="lg" transform="translate(603.6,119.1) scale(0.89,1)">32</text>
<text class="lg" transform="translate(603.6,133.5) scale(0.89,1)">30</text>
<text class="lg" transform="translate(603.6,148.0) scale(0.89,1)">28</text>
<text class="lg" transform="translate(603.6,162.5) scale(0.89,1)">26</text>
<text class="lg" transform="translate(603.6,176.9) scale(0.89,1)">24</text>
<text class="lg" transform="translate(603.6,191.4) scale(0.89,1)">22</text>
<text class="lg" transform="translate(603.6,205.8) scale(0.89,1)">20</text>
<text class="lg" transform="translate(603.6,220.3) scale(0.89,1)">18</text>
<text class="lg" transform="translate(603.6,234.7) scale(0.89,1)">16</text>
<text class="lg" transform="translate(603.6,249.2) scale(0.89,1)">14</text>
<text class="lg" transform="translate(603.6,263.6) scale(0.89,1)">12</text>
<text class="lg" transform="translate(603.6,278.1) scale(0.89,1)">10</text>
<text class="lg" transform="translate(603.6,292.5) scale(0.89,1)">8</text>
<text class="lg" transform="translate(603.6,307.0) scale(0.89,1)">6</text>
<text class="lg" transform="translate(603.6,321.5) scale(0.89,1)">4</text>
<text class="lg" transform="translate(603.6,335.9) scale(0.89,1)">2</text>
<text class="lg" transform="translate(603.6,350.4) scale(0.89,1)">0</text>
<rect x="583" y="359.00" width="18" height="14.76" fill="#e0c8f4"/>
<rect x="583" y="373.45" width="18" height="14.76" fill="#c89cec"/>
<rect x="583" y="387.91" width="18" height="14.76" fill="#a860e4"/>
<rect x="583" y="402.37" width="18" height="14.76" fill="#8828dc"/>
<rect x="583" y="416.82" width="18" height="14.76" fill="#d02088"/>
<rect x="583" y="431.27" width="18" height="14.76" fill="#b02888"/>
<rect x="583" y="445.73" width="18" height="14.76" fill="#982c88"/>
<rect x="583" y="460.19" width="18" height="14.46" fill="#7c388c"/>
<text class="lg" transform="translate(603.6,364.9) scale(0.89,1)">-2</text>
<text class="lg" transform="translate(603.6,379.4) scale(0.89,1)">-4</text>
<text class="lg" transform="translate(603.6,393.8) scale(0.89,1)">-6</text>
<text class="lg" transform="translate(603.6,408.3) scale(0.89,1)">-8</text>
<text class="lg" transform="translate(603.6,422.7) scale(0.89,1)">-10</text>
<text class="lg" transform="translate(603.6,437.2) scale(0.89,1)">-15</text>
<text class="lg" transform="translate(603.6,451.6) scale(0.89,1)">-20</text>
<text class="lg" transform="translate(603.6,466.1) scale(0.89,1)">-25</text>
<text class="lg" transform="translate(603.6,480.5) scale(0.89,1)">-30</text>
<text x="406.6" y="492" font-family="Liberation Sans, sans-serif" font-weight="bold" font-size="8.5px" fill="#ffff00">0°</text>
</svg>
</body></html>
